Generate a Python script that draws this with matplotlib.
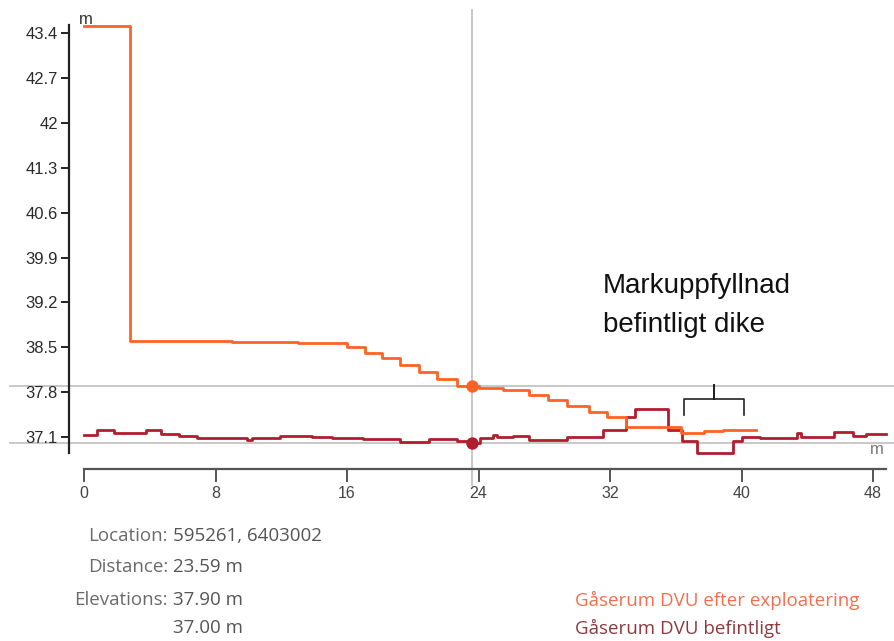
import matplotlib
matplotlib.use("Agg")
import matplotlib.pyplot as plt

# profil "efter exploatering" (avstånd m, höjd m)
efter_dist = [0, 2.8, 9.0, 13.0, 16.0, 17.1, 18.1, 19.2, 20.4, 21.5, 22.7, 24.0, 25.5,
              27.1, 28.2, 29.4, 30.7, 31.8, 33.0, 36.3, 37.7, 38.9, 40.9]
efter_hojd = [43.51, 38.60, 38.58, 38.56, 38.50, 38.41, 38.33, 38.22, 38.11, 38.00, 37.90,
              37.86, 37.83, 37.76, 37.68, 37.58, 37.49, 37.41, 37.25, 37.16, 37.19, 37.21, 37.21]

# profil "befintligt"
bef_dist = [0, 0.8, 1.8, 3.8, 4.7, 5.8, 6.9, 9.9, 10.2, 11.9, 13.9, 15.1, 17.0, 19.2,
            21.0, 22.7, 23.4, 24.1, 24.9, 25.1, 26.1, 27.1, 29.4, 31.6, 33.0, 33.5,
            35.5, 36.4, 37.3, 39.5, 40.0, 41.1, 43.4, 43.6, 45.6, 46.8, 47.6, 48.8]
bef_hojd = [37.13, 37.21, 37.16, 37.21, 37.15, 37.12, 37.08, 37.05, 37.08, 37.12, 37.10,
            37.08, 37.07, 37.02, 37.07, 37.04, 37.00, 37.08, 37.13, 37.10, 37.12, 37.05,
            37.10, 37.21, 37.41, 37.54, 37.21, 37.04, 36.85, 37.04, 37.10, 37.08, 37.16,
            37.10, 37.18, 37.12, 37.15, 37.15]

y_ticks = [37.1, 37.8, 38.5, 39.2, 39.9, 40.6, 41.3, 42.0, 42.7, 43.4]
y_labels = ["37.1", "37.8", "38.5", "39.2", "39.9", "40.6", "41.3", "42", "42.7", "43.4"]
x_ticks = [0, 8, 16, 24, 32, 40, 48]

markor_dist = 23.59
markor_hojd = [37.90, 37.00]
location = "595261, 6403002"

FARG_EFTER = "#ff6226"
FARG_BEF = "#b11d2f"

W, H = 895, 641
fig = plt.figure(figsize=(W / 100, H / 100), dpi=100)

# axes placerade i pixlar (vänster 69, botten 469, topp 10, höger 890)
ax = fig.add_axes([69 / W, 1 - 469 / H, (890 - 69) / W, (469 - 10) / H])
ax.set_xlim(-0.912, 49.03)
ax.set_ylim(36.601, 43.761)

# hårkors
grid_col = "#c4c4c4"
for h in markor_hojd:
    ax.plot([-4.5, 49.3], [h, h], color=grid_col, lw=1.3, clip_on=False, zorder=1)
ax.plot([markor_dist, markor_dist], [36.35, 43.76], color=grid_col, lw=1.3,
        clip_on=False, zorder=1)

ax.plot(bef_dist, bef_hojd, drawstyle="steps-post", color=FARG_BEF, lw=2.0, zorder=3)
ax.plot(efter_dist, efter_hojd, drawstyle="steps-post", color=FARG_EFTER, lw=2.0, zorder=3)

ax.scatter([markor_dist], [markor_hojd[0]], s=80, color=FARG_EFTER, zorder=5, linewidths=0)
ax.scatter([markor_dist], [markor_hojd[1]], s=80, color=FARG_BEF, zorder=5, linewidths=0)

# axlar
for s in ["top", "right"]:
    ax.spines[s].set_visible(False)
ax.spines["left"].set_bounds(36.85, 43.53)
ax.spines["left"].set_color("#222222")
ax.spines["left"].set_linewidth(1.6)
ax.spines["bottom"].set_bounds(0, 48.8)
ax.spines["bottom"].set_color("#555555")
ax.spines["bottom"].set_linewidth(1.6)

ax.set_yticks(y_ticks)
ax.set_yticklabels(y_labels, fontfamily="Liberation Sans", fontsize=12, color="#2a2a2a")
ax.tick_params(axis="y", length=6, width=1.4, color="#222222", pad=2)
ax.set_xticks(x_ticks)
ax.set_xticklabels([str(v) for v in x_ticks], fontfamily="Liberation Sans",
                   fontsize=11.5, color="#444444")
ax.tick_params(axis="x", length=9, width=1.4, color="#555555", pad=3)

fig.text(79 / W, 1 - 19 / H, "m", fontsize=12, fontfamily="Liberation Sans",
         color="#333333", ha="left", va="center")
fig.text(877 / W, 1 - 450 / H, "m", fontsize=12, fontfamily="Liberation Sans",
         color="#777777", ha="center", va="center")

# klammer över diket
bx0, bx1, bxm = 36.5, 40.15, 38.3
ax.plot([bx0, bx0, bxm, bxm, bxm, bx1, bx1],
        [37.44, 37.69, 37.69, 37.91, 37.69, 37.69, 37.44],
        color="#222222", lw=1.2, zorder=4, solid_joinstyle="round")

fig.text(603 / W, 1 - 293 / H, "Markuppfyllnad", fontsize=20,
         fontfamily="Liberation Sans", color="#111111", ha="left", va="baseline")
fig.text(603 / W, 1 - 332 / H, "befintligt dike", fontsize=20,
         fontfamily="Liberation Sans", color="#111111", ha="left", va="baseline")

# info nederst
info_font = dict(fontfamily="Open Sans", fontsize=13.5, va="center")
rader = [("Location:", location, 536),
         ("Distance:", f"{markor_dist:.2f} m", 567),
         ("Elevations:", f"{markor_hojd[0]:.2f} m", 600),
         ("", f"{markor_hojd[1]:.2f} m", 628)]
for etikett, varde, py in rader:
    fig.text(168 / W, 1 - py / H, etikett, ha="right", color="#6a6a6a", **info_font)
    fig.text(173 / W, 1 - py / H, varde, ha="left", color="#555555", **info_font)

fig.text(575 / W, 1 - 600 / H, "Gåserum DVU efter exploatering", ha="left",
         color="#f0704e", **info_font)
fig.text(575 / W, 1 - 628 / H, "Gåserum DVU befintligt", ha="left",
         color="#8c3a40", **info_font)

fig.savefig("out.png", dpi=100)
